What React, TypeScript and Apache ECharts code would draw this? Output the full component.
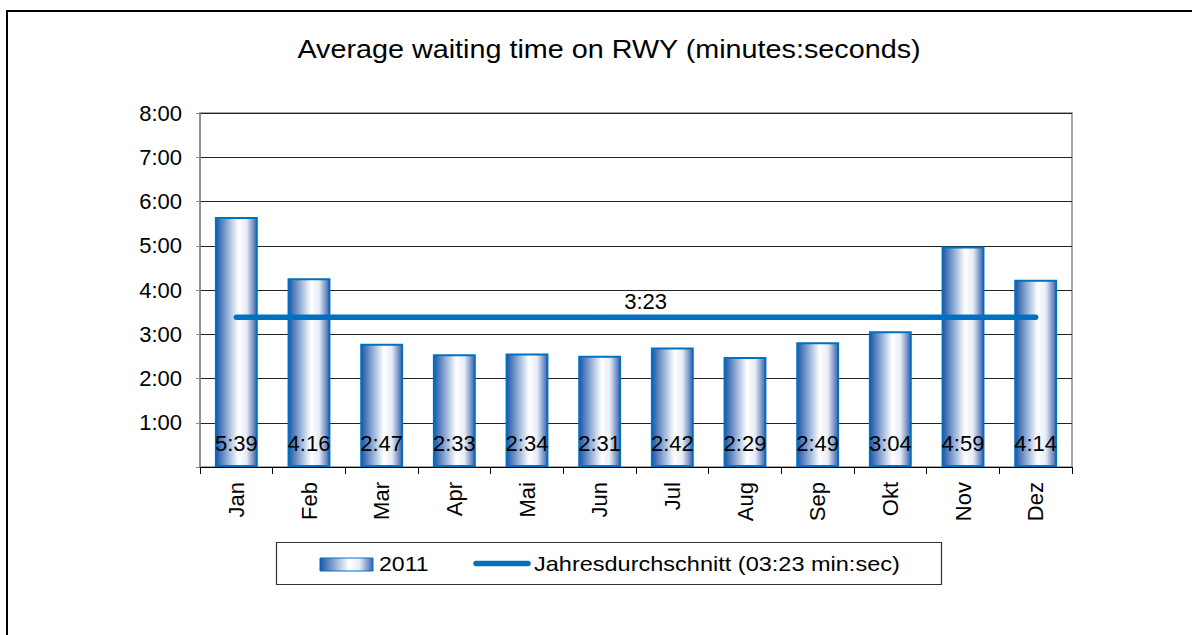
import React, { useEffect, useRef } from "react";
import * as echarts from "echarts";

const months = ["Jan", "Feb", "Mar", "Apr", "Mai", "Jun", "Jul", "Aug", "Sep", "Okt", "Nov", "Dez"];
const waitLabels = ["5:39", "4:16", "2:47", "2:33", "2:34", "2:31", "2:42", "2:29", "2:49", "3:04", "4:59", "4:14"];
const yTicks = [0, 1, 2, 3, 4, 5, 6, 7, 8];
const averageLabel = "3:23";
const seriesBarName = "2011";
const seriesLineName = "Jahresdurchschnitt (03:23 min:sec)";
const titleText = "Average waiting time on RWY (minutes:seconds)";

const toMinutes = (s: string) => {
  const [m, sec] = s.split(":").map(Number);
  return m + sec / 60;
};
const waitValues = waitLabels.map(toMinutes);
const averageValue = toMinutes(averageLabel);
const averageLine = months.map(() => averageValue);

const FONT = "'Liberation Sans', Arial, sans-serif";

const barGradient = () =>
  new echarts.graphic.LinearGradient(0, 0, 1, 0, [
    { offset: 0, color: "#1E56A8" },
    { offset: 0.55, color: "#FFFFFF" },
    { offset: 0.75, color: "#E6EBF5" },
    { offset: 1, color: "#3A62AE" },
  ]);

export default function App() {
  const ref = useRef<HTMLDivElement>(null);
  useEffect(() => {
    document.body.style.margin = "0";
    const chart = echarts.init(ref.current!, null, { renderer: "svg" });
    chart.setOption({
      animation: false,
      backgroundColor: "#fff",
      textStyle: { fontFamily: FONT },
      grid: {
        left: 200,
        top: 113,
        width: 872,
        height: 354,
        show: true,
        borderColor: "#8a8a8a",
        borderWidth: 1.5,
        containLabel: false,
      },
      xAxis: {
        type: "category",
        data: months,
        axisLine: { lineStyle: { color: "#000", width: 1.2 } },
        axisTick: { show: true, length: 7, lineStyle: { color: "#000" } },
        axisLabel: { rotate: 90, fontSize: 22, color: "#000", margin: 15, fontFamily: FONT },
      },
      yAxis: {
        type: "value",
        min: yTicks[0],
        max: yTicks[yTicks.length - 1],
        interval: 1,
        axisLine: { show: true, lineStyle: { color: "#8a8a8a", width: 1.5 } },
        axisTick: { show: true, length: 4, lineStyle: { color: "#8a8a8a" } },
        splitLine: { show: true, lineStyle: { color: "#222", width: 1 } },
        axisLabel: {
          fontSize: 22,
          color: "#000",
          margin: 18,
          fontFamily: FONT,
          formatter: (v: number) => (v === 0 ? "" : `${v}:00`),
        },
      },
      series: [
        {
          name: seriesBarName,
          type: "bar",
          data: waitValues,
          barWidth: "59%",
          itemStyle: { color: barGradient(), borderColor: "#0070C0", borderWidth: 2 },
          label: {
            show: true,
            position: "insideBottom",
            distance: 13,
            fontSize: 22,
            lineHeight: 22,
            color: "#000",
            fontFamily: FONT,
            formatter: (p: any) => waitLabels[p.dataIndex],
          },
          z: 2,
        },
        {
          name: seriesLineName,
          type: "line",
          data: averageLine.map((v, i) =>
            i === 5
              ? {
                  value: v,
                  label: {
                    show: true,
                    position: "top",
                    distance: 4,
                    offset: [46, 0],
                    fontSize: 22,
                    lineHeight: 22,
                    color: "#000",
                    fontFamily: FONT,
                    formatter: () => averageLabel,
                  },
                }
              : v
          ),
          symbol: "circle",
          symbolSize: 2,
          showSymbol: true,
          itemStyle: { color: "#0070C0" },
          lineStyle: { color: "#0070C0", width: 5.5, cap: "round" },
          z: 3,
        },
      ],
      graphic: [
        {
          type: "line",
          shape: { x1: 7, y1: 11, x2: 7, y2: 700 },
          style: { stroke: "#000", lineWidth: 2 },
          silent: true,
          z: 100,
        },
        {
          type: "line",
          shape: { x1: 6, y1: 11, x2: 1300, y2: 11 },
          style: { stroke: "#000", lineWidth: 2 },
          silent: true,
          z: 100,
        },
        {
          type: "text",
          x: 609,
          y: 50,
          scaleX: 1.15,
          style: {
            text: titleText,
            fontSize: 25,
            fontFamily: FONT,
            fill: "#000",
            align: "center",
            verticalAlign: "middle",
          },
        },
        {
          type: "rect",
          shape: { x: 276.5, y: 542.5, width: 665, height: 42 },
          style: { fill: "#fff", stroke: "#333", lineWidth: 1.2 },
        },
        {
          type: "rect",
          shape: { x: 320, y: 558, width: 53, height: 13 },
          style: { fill: barGradient(), stroke: "#0070C0", lineWidth: 1 },
        },
        {
          type: "text",
          x: 379,
          y: 564,
          scaleX: 1.1,
          style: {
            text: seriesBarName,
            fontSize: 21,
            fontFamily: FONT,
            fill: "#000",
            align: "left",
            verticalAlign: "middle",
          },
        },
        {
          type: "line",
          shape: { x1: 476, y1: 563.5, x2: 528, y2: 563.5 },
          style: { stroke: "#0070C0", lineWidth: 5.5, lineCap: "round" },
        },
        {
          type: "text",
          x: 534,
          y: 564,
          scaleX: 1.12,
          style: {
            text: seriesLineName,
            fontSize: 21,
            fontFamily: FONT,
            fill: "#000",
            align: "left",
            verticalAlign: "middle",
          },
        },
      ],
    });
    return () => chart.dispose();
  }, []);
  return <div ref={ref} style={{ width: 1192, height: 635 }} />;
}
